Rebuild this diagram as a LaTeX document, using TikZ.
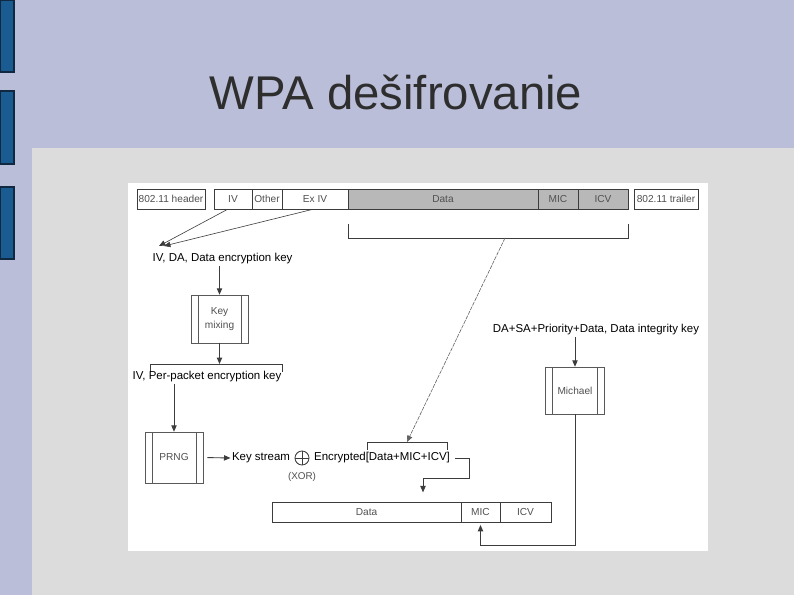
\documentclass[tikz,border=0pt]{standalone}
\usepackage{fontspec}
\setmainfont{Liberation Sans}
\usetikzlibrary{arrows.meta}

\definecolor{slideblue}{RGB}{186,190,217}
\definecolor{slidegray}{RGB}{220,220,220}
\definecolor{tabblue}{RGB}{26,92,145}
\definecolor{tabedge}{RGB}{16,40,64}
\definecolor{titlegray}{RGB}{46,46,46}
\definecolor{linegray}{RGB}{60,60,60}
\definecolor{fieldgray}{RGB}{184,184,184}
\definecolor{labelgray}{RGB}{80,80,80}

\tikzset{
  field/.style={draw=linegray, fill=white, minimum height=15pt, inner sep=0pt,
    font=\fontsize{7.6}{9}\selectfont, text=labelgray},
  dfield/.style={field, fill=fieldgray},
  proc/.style={draw=linegray!85, fill=white, inner sep=0pt, align=center,
    font=\fontsize{7.6}{10.5}\selectfont, text=labelgray,
    path picture={
      \draw[linegray!85] ([xshift=5.25pt]path picture bounding box.north west) -- ([xshift=5.25pt]path picture bounding box.south west);
      \draw[linegray!85] ([xshift=-5.25pt]path picture bounding box.north east) -- ([xshift=-5.25pt]path picture bounding box.south east);}},
  lbl/.style={inner sep=1pt, font=\fontsize{8.6}{10}\selectfont, text=black},
  wire/.style={draw=linegray, line width=0.65pt},
  arr/.style={wire, -{Triangle[length=4.8pt,width=4pt]}},
}

\begin{document}
\begin{tikzpicture}[x=0.75pt,y=0.75pt,yscale=-1,xscale=1]
\useasboundingbox (0,0) rectangle (794,595);

%Slide background
\fill[slideblue] (0,0) rectangle (794,595);
\fill[slidegray] (32,148) rectangle (794,595);
\fill[white] (128,183) rectangle (708,551);
\foreach \ty/\tb in {0/72,91/164,187/259}
  \draw[tabedge, fill=tabblue, line width=0.8pt] (0.5,\ty) rectangle (14,\tb);

% Text Node
\node[text=titlegray, font=\fontsize{35.5}{40}\selectfont] (title) at (396,93) {WPA dešifrovanie};

%Frame fields
\node[field, minimum width=51pt] (hdr) at (171,199) {802.11 header};
\node[field, minimum width=28.5pt] (iv) at (233,199) {IV};
\node[field, minimum width=22.5pt] (oth) at (267,199) {Other};
\node[field, minimum width=49.5pt] (exiv) at (315,199) {Ex IV};
\node[dfield, minimum width=142.5pt] (data) at (443,199) {Data};
\node[dfield, minimum width=30pt] (mic) at (558,199) {MIC};
\node[dfield, minimum width=37.5pt] (icv) at (603,199) {ICV};
\node[field, minimum width=48pt] (trl) at (666,199) {802.11 trailer};

%Bracket under Data..ICV
\coordinate (dbl) at (348,238);
\coordinate (dbr) at (628,238);
\draw[wire] (348,224) -- (dbl) -- (dbr) -- (628,224);

% Text Node
\node[lbl] (ivda) at (222.5,259) {IV, DA, Data encryption key};
\coordinate (ta) at (159,246);
\coordinate (tb) at (164,246);
\draw[arr, line width=0.45pt] ([xshift=-4pt]iv.south) -- (ta);
\draw[arr, line width=0.45pt] ([xshift=-1.5pt]exiv.south) -- (tb);

%Key mixing
\node[proc, minimum width=42.75pt, minimum height=36pt] (keymix) at (219.5,319) {Key\\mixing};
\draw[arr] (keymix.north |- ivda.south) -- (keymix.north);

%Bracket over per-packet key
\coordinate (ppl) at (150,364);
\coordinate (ppr) at (282,364);
\draw[wire] (150,372) -- (ppl) -- (ppr) -- (282,372);
\draw[arr] (keymix.south) -- (keymix.south |- ppl);

% Text Node
\node[lbl] (ivpp) at (207,377) {IV, Per-packet encryption key};

%PRNG
\node[proc, minimum width=43.5pt, minimum height=38.25pt] (prng) at (174,457.5) {PRNG};
\draw[arr] (prng.north |- ivpp.south) -- (prng.north);

% Text Node
\node[lbl] (ks) at (261,458) {Key stream};
\draw[arr, shorten <=3pt] (prng.east) -- (ks.west);

%XOR
\node[circle, draw=linegray, line width=0.65pt, minimum size=10.5pt, inner sep=0pt] (xor) at (302,458) {};
\draw[wire] (xor.north) -- (xor.south) (xor.west) -- (xor.east);
\node[inner sep=1pt, font=\fontsize{7.4}{9}\selectfont, text=labelgray] (xorlbl) at (302,477) {(XOR)};

% Text Node
\node[lbl] (enc) at (382,458) {Encrypted[Data+MIC+ICV]};
\coordinate (ebl) at (367,442);
\coordinate (ebr) at (447,442);
\coordinate (etip) at (407,442);
\draw[wire] (367,450) -- (ebl) -- (ebr) -- (447,450);

%Data to encrypted part
\coordinate (dsrc) at (505,238);
\draw[arr, draw=linegray!80, line width=0.45pt, dash pattern=on 3pt off 0.8pt] (dsrc) -- (etip);

%Decrypted frame
\node[field, minimum width=141.75pt] (bdata) at (366.5,512) {Data};
\node[field, minimum width=29.25pt] (bmic) at (480.5,512) {MIC};
\node[field, minimum width=38.25pt] (bicv) at (525.5,512) {ICV};

\coordinate (ebend) at (469,478);
\coordinate (edrop) at (423,478);
\draw[arr, shorten >=7pt] ([xshift=3pt]enc.east) -| (ebend) -- (edrop) -- (edrop |- bdata.north);

% Text Node
\node[lbl] (dsa) at (596,330) {DA+SA+Priority+Data, Data integrity key};

%Michael
\node[proc, minimum width=44.25pt, minimum height=35.25pt] (michael) at (575,390.5) {Michael};
\draw[arr] (michael.north |- dsa.south) -- (michael.north);

\coordinate (mbend) at (575,545);
\draw[arr, shorten >=2pt] (michael.south) -- (mbend) -| (bmic.south);

\end{tikzpicture}
\end{document}
